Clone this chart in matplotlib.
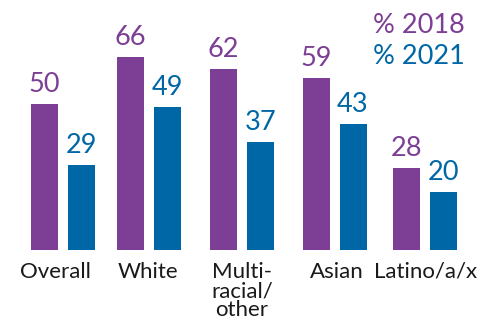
import matplotlib
matplotlib.use("Agg")
import matplotlib.pyplot as plt
import numpy as np

categories = ["Overall", "White", "Multi-\nracial/\nother", "Asian", "Latino/a/x"]
pct_2018 = [50, 66, 62, 59, 28]
pct_2021 = [29, 49, 37, 43, 20]
series_labels = ["% 2018", "% 2021"]

purple = "#7D3F95"
blue = "#0067A6"
text_dark = "#1a1a1a"

plt.rcParams["font.family"] = ["Lato", "DejaVu Sans"]

W, H = 490, 331
fig = plt.figure(figsize=(W / 100, H / 100), dpi=100)
base_px = 81          # distance of the zero line from the bottom edge
px_per_unit = 2.92
ax = fig.add_axes([0, base_px / H, 1, (H - base_px) / H])

# horizontal layout: group centres in pixels, mapped onto a pixel-scaled x axis
group_px = [63, 148.5, 242, 334.5, 425]
ax.set_xlim(0, W)
ax.set_ylim(0, (H - base_px) / px_per_unit)
x = np.array(group_px)

bw = 27
off = 18.5
b1 = ax.bar(x - off, pct_2018, width=bw, color=purple)
b2 = ax.bar(x + off, pct_2021, width=bw, color=blue)

for bars, vals, col in ((b1, pct_2018, purple), (b2, pct_2021, blue)):
    for rect, v in zip(bars, vals):
        ax.annotate(f"{v}", (rect.get_x() + rect.get_width() / 2, v),
                    xytext=(0, 7), textcoords="offset pixels",
                    ha="center", va="bottom", fontsize=19.5, color=col)

label_shift = [-8, -1, 0, 2, 1]
for xi, cat, dx in zip(x, categories, label_shift):
    ax.annotate(cat, (xi, 0), xytext=(dx, -12),
                textcoords="offset pixels", ha="center", va="top",
                fontsize=16, color=text_dark, linespacing=0.95,
                annotation_clip=False)

fig.text(373 / W, 1 - 33 / H, series_labels[0], color=purple, fontsize=19.5,
         ha="left", va="baseline")
fig.text(373 / W, 1 - 64 / H, series_labels[1], color=blue, fontsize=19.5,
         ha="left", va="baseline")

ax.axis("off")
fig.savefig("out.png", dpi=100)
